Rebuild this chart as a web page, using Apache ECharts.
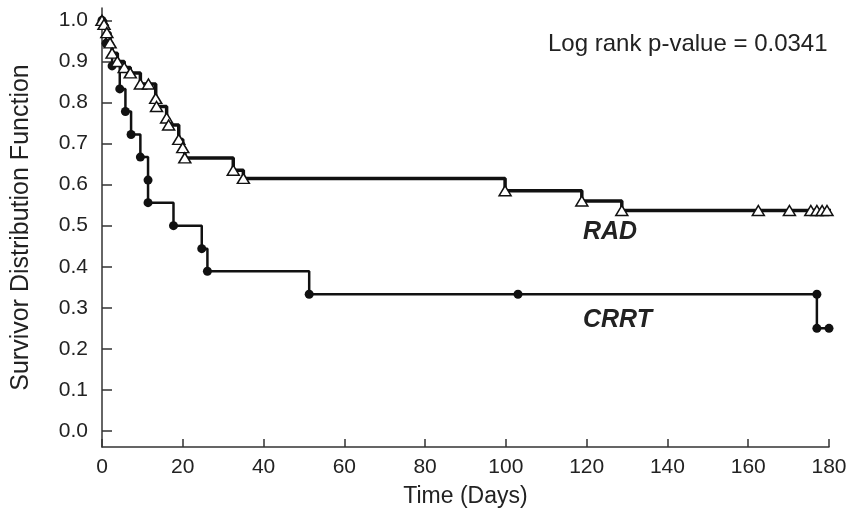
<!DOCTYPE html>
<html>
<head>
<meta charset="utf-8">
<script src="https://cdn.jsdelivr.net/npm/echarts@6/dist/echarts.min.js"></script>
<style>
  html, body { margin: 0; padding: 0; background: #fff; }
  #main { width: 856px; height: 522px; }
</style>
</head>
<body>
<div id="main"></div>
<script>
// Kaplan-Meier steps: [day, survival]
const radDays = [0, 0.5, 1.2, 2.0, 2.5, 3.8, 5.5, 7.0, 9.5, 11.5, 13.3, 13.5, 16.0, 16.5, 19.0, 20.0, 20.5, 32.5, 35.0, 99.8, 118.8, 128.7, 162.5, 170.2, 175.5, 177.0, 178.3, 179.5, 180.5];
const radSurv = [1.0, 0.99, 0.97, 0.945, 0.92, 0.90, 0.885, 0.872, 0.845, 0.845, 0.81, 0.79, 0.762, 0.745, 0.71, 0.69, 0.665, 0.635, 0.615, 0.585, 0.56, 0.537, 0.537, 0.537, 0.537, 0.537, 0.537, 0.537, 0.537];

const crrtDays = [0, 1.0, 2.5, 4.4, 5.8, 7.2, 9.5, 11.4, 11.4, 17.7, 24.7, 26.1, 51.3, 103.0, 177.0, 177.0, 180.0];
const crrtSurv = [1.0, 0.944, 0.889, 0.833, 0.778, 0.722, 0.667, 0.611, 0.556, 0.5, 0.444, 0.389, 0.333, 0.333, 0.333, 0.25, 0.25];

const xTicks = [0, 20, 40, 60, 80, 100, 120, 140, 160, 180];
const yTicks = [0, 0.1, 0.2, 0.3, 0.4, 0.5, 0.6, 0.7, 0.8, 0.9, 1.0];

const pValueText = 'Log rank p-value = 0.0341';

const font = 'Liberation Sans';
const ink = '#222';

const radData = radDays.map((d, i) => [d, radSurv[i]]);
const crrtData = crrtDays.map((d, i) => [d, crrtSurv[i]]);

const myChart = echarts.init(document.getElementById('main'));

const options = {
  backgroundColor: '#fff',
  animation: false,
  grid: { left: 102, right: 27, top: 8, bottom: 75, containLabel: false },
  xAxis: {
    type: 'value',
    min: 0,
    max: 180,
    interval: 20,
    name: 'Time (Days)',
    nameLocation: 'middle',
    nameGap: 38,
    nameTextStyle: { fontFamily: font, fontSize: 23, color: ink },
    axisLine: { onZero: false, lineStyle: { color: '#333', width: 1.5 } },
    axisTick: { inside: true, length: 8, lineStyle: { color: '#333', width: 1.5 }, customValues: xTicks },
    axisLabel: { fontFamily: font, fontSize: 21, color: ink, margin: 10, customValues: xTicks },
    splitLine: { show: false }
  },
  yAxis: {
    type: 'value',
    min: -0.039,
    max: 1.03,
    name: 'Survivor Distribution Function',
    nameLocation: 'middle',
    nameGap: 68,
    nameTextStyle: { fontFamily: font, fontSize: 25, color: ink },
    axisLine: { show: true, lineStyle: { color: '#333', width: 1.5 } },
    axisTick: { show: true, inside: true, length: 10, lineStyle: { color: '#333', width: 1.5 }, customValues: yTicks },
    axisLabel: {
      fontFamily: font, fontSize: 21, color: ink, margin: 14,
      customValues: yTicks,
      formatter: (v) => v.toFixed(1)
    },
    splitLine: { show: false }
  },
  series: [
    {
      name: 'CRRT',
      type: 'line',
      step: 'end',
      data: crrtData,
      symbol: 'circle',
      symbolSize: 9,
      showSymbol: true,
      lineStyle: { color: '#111', width: 2.5 },
      itemStyle: { color: '#111', borderColor: '#111', borderWidth: 0 },
      z: 2
    },
    {
      name: 'RAD',
      type: 'line',
      step: 'end',
      data: radData,
      symbol: 'triangle',
      symbolSize: [12, 10],
      showSymbol: true,
      lineStyle: { color: '#111', width: 3.5 },
      itemStyle: { color: '#fff', borderColor: '#111', borderWidth: 1.5 },
      z: 3
    }
  ],
  graphic: [
    {
      type: 'text', left: 548, top: 32,
      style: { text: pValueText, font: '24px "Liberation Sans"', fill: ink }
    },
    {
      type: 'text', left: 583, top: 220,
      style: { text: 'RAD', font: 'italic bold 25px "Liberation Sans"', fill: ink }
    },
    {
      type: 'text', left: 583, top: 308,
      style: { text: 'CRRT', font: 'italic bold 25px "Liberation Sans"', fill: ink }
    }
  ]
};

myChart.setOption(options);
</script>
</body>
</html>
